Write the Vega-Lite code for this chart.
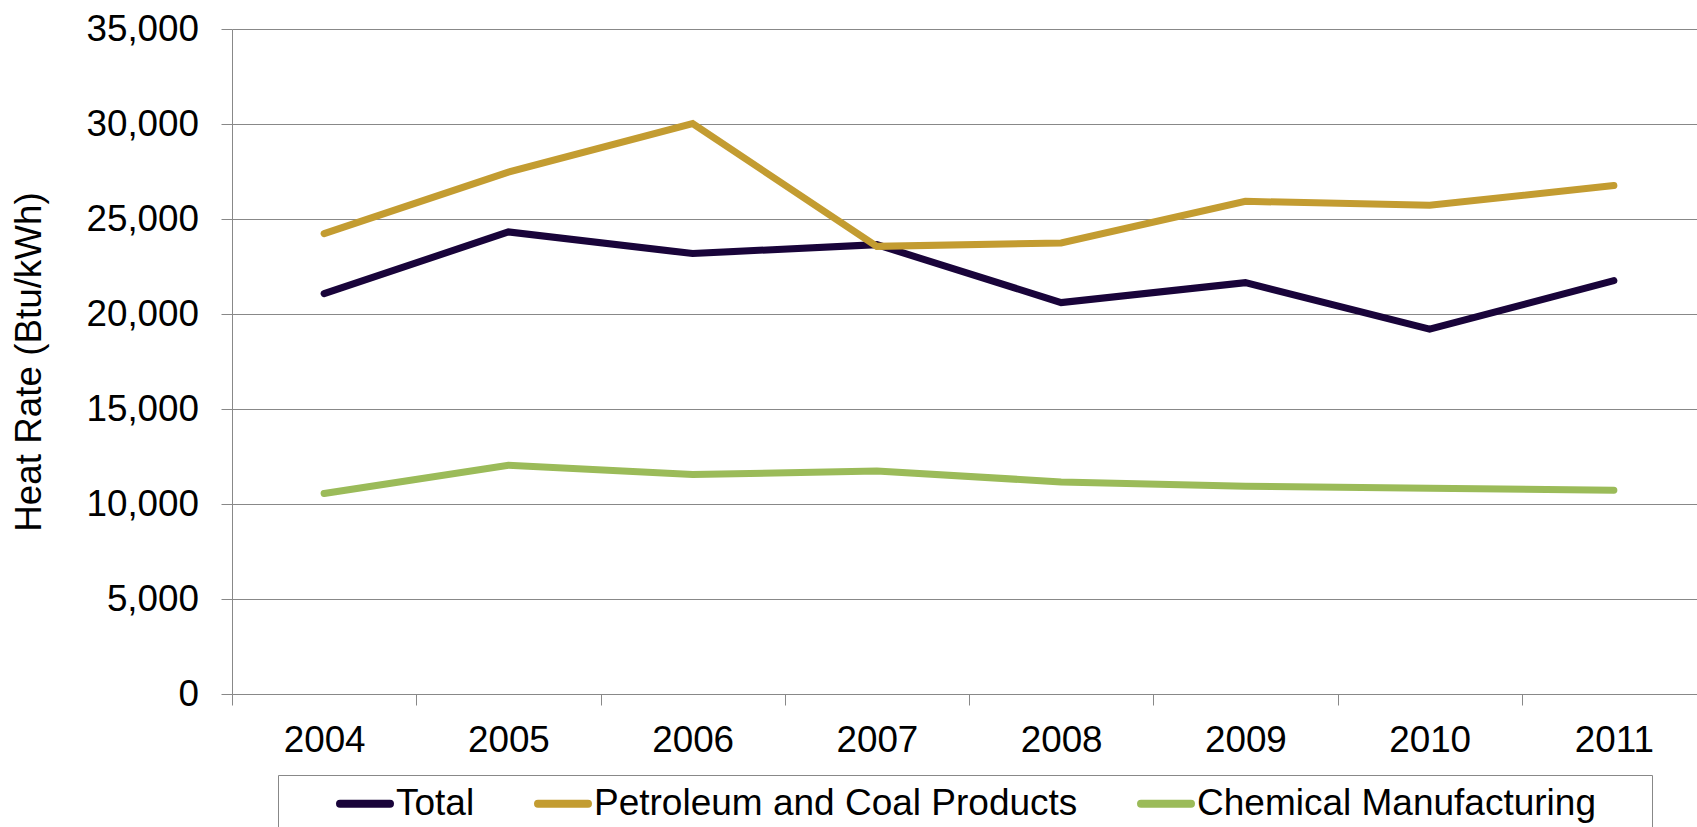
{
  "$schema": "https://vega.github.io/schema/vega-lite/v6.json",
  "autosize": {"type": "none"},
  "padding": {"left": 232, "top": 29, "right": 0, "bottom": 133},
  "width": 1465,
  "height": 665,
  "background": "white",
  "config": {"view": {"stroke": null}, "font": "Liberation Sans"},
  "data": {
    "values": [
      {"year": "2004", "series": "Total", "value": 21070},
      {"year": "2005", "series": "Total", "value": 24320},
      {"year": "2006", "series": "Total", "value": 23180},
      {"year": "2007", "series": "Total", "value": 23650},
      {"year": "2008", "series": "Total", "value": 20600},
      {"year": "2009", "series": "Total", "value": 21650},
      {"year": "2010", "series": "Total", "value": 19200},
      {"year": "2011", "series": "Total", "value": 21760},
      {"year": "2004", "series": "Petroleum and Coal Products", "value": 24230},
      {"year": "2005", "series": "Petroleum and Coal Products", "value": 27470},
      {"year": "2006", "series": "Petroleum and Coal Products", "value": 30020},
      {"year": "2007", "series": "Petroleum and Coal Products", "value": 23560},
      {"year": "2008", "series": "Petroleum and Coal Products", "value": 23740},
      {"year": "2009", "series": "Petroleum and Coal Products", "value": 25930},
      {"year": "2010", "series": "Petroleum and Coal Products", "value": 25720},
      {"year": "2011", "series": "Petroleum and Coal Products", "value": 26760},
      {"year": "2004", "series": "Chemical Manufacturing", "value": 10550},
      {"year": "2005", "series": "Chemical Manufacturing", "value": 12040},
      {"year": "2006", "series": "Chemical Manufacturing", "value": 11550},
      {"year": "2007", "series": "Chemical Manufacturing", "value": 11740},
      {"year": "2008", "series": "Chemical Manufacturing", "value": 11160},
      {"year": "2009", "series": "Chemical Manufacturing", "value": 10930},
      {"year": "2010", "series": "Chemical Manufacturing", "value": 10830},
      {"year": "2011", "series": "Chemical Manufacturing", "value": 10720}
    ]
  },
  "mark": {"type": "line", "strokeWidth": 7, "strokeCap": "round"},
  "encoding": {
    "x": {
      "field": "year",
      "type": "ordinal",
      "scale": {"type": "band", "paddingInner": 0, "paddingOuter": 0, "range": [0, 1474]},
      "axis": {
        "title": null,
        "labelAngle": 0,
        "tickBand": "extent",
        "tickSize": 11,
        "tickColor": "#888888",
        "domainColor": "#888888",
        "labelFont": "Liberation Sans",
        "labelFontSize": 36.8,
        "labelColor": "black",
        "labelPadding": 17,
        "grid": false
      }
    },
    "y": {
      "field": "value",
      "type": "quantitative",
      "scale": {"domain": [0, 35000], "nice": false},
      "axis": {
        "values": [0, 5000, 10000, 15000, 20000, 25000, 30000, 35000],
        "format": ",.0f",
        "title": "Heat Rate (Btu/kWh)",
        "titleFont": "Liberation Sans",
        "titleFontSize": 36.8,
        "titleFontWeight": "normal",
        "titleColor": "black",
        "titlePadding": 37,
        "labelFont": "Liberation Sans",
        "labelFontSize": 36.8,
        "labelColor": "black",
        "labelPadding": 22.5,
        "tickSize": 11,
        "tickColor": "#888888",
        "domainColor": "#888888",
        "grid": true,
        "gridColor": "#888888",
        "gridWidth": 1
      }
    },
    "color": {
      "field": "series",
      "type": "nominal",
      "scale": {
        "domain": ["Total", "Petroleum and Coal Products", "Chemical Manufacturing"],
        "range": ["#19043A", "#C39C31", "#9BBB59"]
      },
      "legend": {
        "orient": "none",
        "legendX": 46,
        "legendY": 746,
        "direction": "horizontal",
        "title": " ",
        "titleOrient": "right",
        "titleFontSize": 10,
        "titlePadding": 46,
        "symbolType": "M-2,0H2",
        "symbolSize": 625,
        "symbolStrokeWidth": 8,
        "symbolOffset": 58.5,
        "labelOffset": 12.5,
        "labelFont": "Liberation Sans",
        "labelFontSize": 37,
        "labelColor": "black",
        "labelLimit": 1000,
        "columnPadding": 11,
        "padding": 10,
        "strokeColor": "#888888",
        "fillColor": "white",
        "encode": {"symbols": {"update": {"strokeCap": {"value": "round"}}}}
      }
    }
  }
}
